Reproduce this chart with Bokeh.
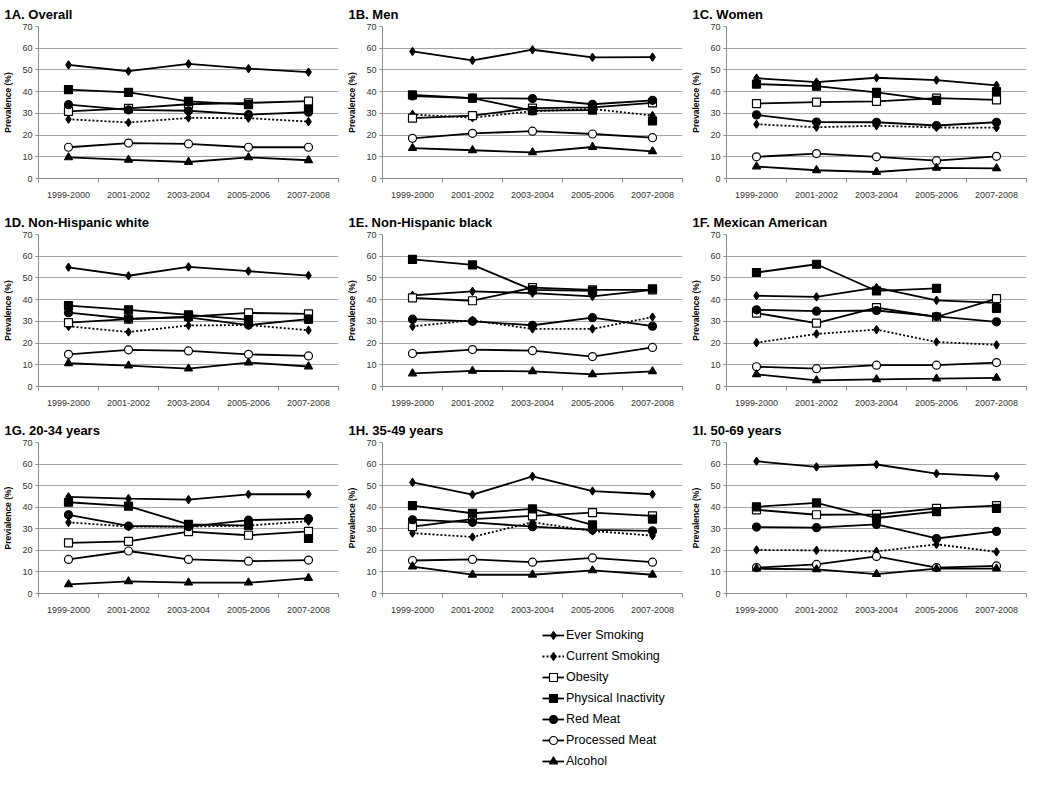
from bokeh.plotting import figure
from bokeh.layouts import column, row
from bokeh.models import Range1d, FixedTicker, Legend, LegendItem, ColumnDataSource
from bokeh.embed import file_html
from bokeh.resources import INLINE

# ---------------- data ----------------
periods = ["1999-2000", "2001-2002", "2003-2004", "2005-2006", "2007-2008"]

panel_titles = ["1A. Overall", "1B. Men", "1C. Women",
                "1D. Non-Hispanic white", "1E. Non-Hispanic black", "1F. Mexican American",
                "1G. 20-34 years", "1H. 35-49 years", "1I. 50-69 years"]
y_titles = ["Prevalence (%)"] * 6 + ["Previalence (%)", "Prevalence (%)", "Prevalence (%)"]

series_names = ["Ever Smoking", "Current Smoking", "Obesity", "Physical Inactivity",
                "Red Meat", "Processed Meat", "Alcohol"]

# each list: panels A..I, values per period
ever_smoking = [
    [52.3, 49.4, 52.8, 50.6, 49.0],
    [58.5, 54.4, 59.3, 55.8, 55.9],
    [46.2, 44.4, 46.4, 45.3, 42.9],
    [54.9, 51.0, 55.1, 53.1, 51.1],
    [42.0, 43.8, 43.0, 41.5, 44.5],
    [41.8, 41.3, 45.5, 39.7, 38.5],
    [44.8, 44.0, 43.5, 46.0, 46.0],
    [51.5, 45.8, 54.3, 47.5, 46.0],
    [61.3, 58.7, 59.8, 55.6, 54.3],
]
current_smoking = [
    [27.3, 25.8, 27.9, 27.8, 26.2],
    [29.5, 28.0, 31.0, 32.0, 29.0],
    [25.0, 23.6, 24.3, 23.5, 23.4],
    [27.7, 25.1, 28.1, 28.3, 25.9],
    [27.7, 30.5, 26.5, 26.5, 32.0],
    [20.2, 24.2, 26.2, 20.5, 19.2],
    [33.0, 31.0, 31.0, 31.5, 33.5],
    [28.0, 26.2, 33.0, 29.0, 26.8],
    [20.2, 20.0, 19.5, 22.8, 19.3],
]
obesity = [
    [30.9, 32.3, 34.2, 34.8, 35.6],
    [27.8, 29.0, 32.4, 32.8, 34.8],
    [34.5, 35.2, 35.5, 37.0, 36.2],
    [29.4, 31.0, 32.2, 33.9, 33.4],
    [40.8, 39.5, 45.5, 44.5, 44.5],
    [33.8, 29.2, 36.3, 32.0, 40.5],
    [23.5, 24.2, 28.7, 27.0, 28.8],
    [31.0, 34.5, 36.0, 37.5, 36.0],
    [38.8, 36.5, 36.7, 39.5, 40.7],
]
physical_inactivity = [
    [40.9, 39.7, 35.5, 34.0, 32.0],
    [38.5, 37.0, 31.3, 31.5, 26.5],
    [43.5, 42.5, 39.7, 36.0, 40.0],
    [37.2, 35.3, 33.0, 30.8, 31.0],
    [58.5, 56.0, 44.5, 44.0, 45.0],
    [52.5, 56.3, 44.0, 45.2, 36.0],
    [42.3, 40.5, 32.0, 31.5, 25.5],
    [40.7, 37.2, 39.2, 31.8, 34.5],
    [40.2, 42.0, 35.0, 38.0, 39.5],
]
red_meat = [
    [34.0, 31.6, 31.2, 29.4, 30.5],
    [38.0, 37.0, 36.8, 34.2, 36.0],
    [29.3, 26.0, 25.9, 24.4, 25.9],
    [34.0, 31.2, 31.8, 28.3, 31.0],
    [31.0, 30.0, 28.2, 31.7, 27.8],
    [35.3, 34.7, 35.0, 32.3, 29.8],
    [36.5, 31.3, 31.0, 34.0, 34.7],
    [34.2, 33.0, 31.0, 29.5, 29.0],
    [30.8, 30.5, 32.0, 25.5, 28.8],
]
processed_meat = [
    [14.4, 16.3, 15.9, 14.4, 14.4],
    [18.5, 20.8, 21.8, 20.5, 18.8],
    [10.0, 11.5, 10.0, 8.2, 10.2],
    [14.8, 16.9, 16.4, 14.8, 14.1],
    [15.2, 17.0, 16.5, 13.8, 18.0],
    [9.1, 8.2, 9.8, 9.8, 11.0],
    [15.8, 19.7, 15.8, 15.0, 15.5],
    [15.3, 15.8, 14.5, 16.5, 14.5],
    [12.0, 13.5, 17.2, 12.0, 12.8],
]
alcohol = [
    [9.7, 8.6, 7.6, 9.7, 8.4],
    [14.0, 13.0, 12.0, 14.5, 12.5],
    [5.5, 3.8, 3.0, 4.9, 4.7],
    [10.7, 9.6, 8.2, 11.0, 9.2],
    [6.0, 7.2, 7.0, 5.6, 7.0],
    [5.6, 2.8, 3.3, 3.6, 4.0],
    [4.2, 5.6, 5.0, 5.0, 7.1],
    [12.5, 8.7, 8.7, 10.7, 8.7],
    [11.5, 11.2, 9.0, 11.5, 11.5],
]
# number of leading points joined by the line (last physical inactivity point stands alone)
line_points = [5, 5, 5, 4, 5, 5, 5]

# ---------------- styles ----------------
all_series = [ever_smoking, current_smoking, obesity, physical_inactivity,
              red_meat, processed_meat, alcohol]
markers = ["diamond", "diamond", "square", "square", "circle", "circle", "triangle"]
fills = ["black", "black", "white", "black", "black", "white", "black"]
sizes = [8, 8, 8, 8, 8, 8, 8]
dashes = ["solid", "2 2", "solid", "solid", "solid", "solid", "solid"]

FONT = "Liberation Sans"
GRID = "#a6a6a6"
AXIS = "#8c8c8c"

xs = [i + 0.5 for i in range(len(periods))]
row_heights = [208, 208, 207]


def make_panel(k):
    p = figure(width=344, height=row_heights[k // 3], x_range=Range1d(0, len(periods)),
               y_range=Range1d(0, 70),
               output_backend="svg", toolbar_location=None, title=panel_titles[k],
               min_border_left=36, min_border_right=6, min_border_top=0, min_border_bottom=30)
    p.title.text_font = FONT
    p.title.text_font_size = "13px"
    p.title.text_font_style = "bold"
    p.title.text_color = "black"
    p.title.offset = -34
    p.title.standoff = 9
    p.outline_line_color = None
    p.xgrid.grid_line_color = None
    p.ygrid.grid_line_color = GRID
    p.ygrid.ticker = FixedTicker(ticks=list(range(10, 71, 10)))

    p.yaxis.ticker = FixedTicker(ticks=list(range(0, 71, 10)))
    p.yaxis.axis_line_color = AXIS
    p.yaxis.major_tick_line_color = AXIS
    p.yaxis.major_tick_out = 3
    p.yaxis.major_tick_in = 0
    p.yaxis.minor_tick_line_color = None
    p.yaxis.major_label_standoff = 3
    p.yaxis.major_label_text_font = FONT
    p.yaxis.major_label_text_font_size = "9px"
    p.yaxis.major_label_text_color = "#333333"
    p.yaxis.axis_label = y_titles[k]
    p.yaxis.axis_label_text_font = FONT
    p.yaxis.axis_label_text_font_size = "8.5px"
    p.yaxis.axis_label_text_font_style = "bold"
    p.yaxis.axis_label_text_color = "black"
    p.yaxis.axis_label_standoff = 6

    p.xaxis.ticker = FixedTicker(ticks=xs, minor_ticks=list(range(len(periods) + 1)))
    p.xaxis.major_label_overrides = {x: lab for x, lab in zip(xs, periods)}
    p.xaxis.axis_line_color = AXIS
    p.xaxis.major_tick_line_color = None
    p.xaxis.major_tick_out = 0
    p.xaxis.major_tick_in = 0
    p.xaxis.minor_tick_line_color = AXIS
    p.xaxis.minor_tick_out = 4
    p.xaxis.minor_tick_in = 0
    p.xaxis.major_label_standoff = 9
    p.xaxis.major_label_text_font = FONT
    p.xaxis.major_label_text_font_size = "9px"
    p.xaxis.major_label_text_color = "#333333"

    for s, data in enumerate(all_series):
        vals = data[k]
        n = line_points[s]
        p.line(xs[:n], vals[:n], line_color="black", line_width=1.8, line_dash=dashes[s])
        p.scatter(xs, vals, marker=markers[s], size=sizes[s], fill_color=fills[s],
                  line_color="black", line_width=1.2)
    return p


panels = [make_panel(k) for k in range(9)]

# ---------------- legend ----------------
lg = figure(width=1032, height=150, x_range=Range1d(0, 1), y_range=Range1d(0, 1),
            output_backend="svg", toolbar_location=None,
            min_border_left=0, min_border_right=0, min_border_top=0, min_border_bottom=0)
lg.axis.visible = False
lg.grid.visible = False
lg.outline_line_color = None
items = []
# renderers whose single point lies outside the visible range: only their legend glyphs show
offscreen = ColumnDataSource(data=dict(x=[-10, -11], y=[-10, -11]))
for s, name in enumerate(series_names):
    r1 = lg.line("x", "y", source=offscreen, line_color="black", line_width=1.8, line_dash=dashes[s])
    r2 = lg.scatter("x", "y", source=offscreen, marker=markers[s], size=sizes[s], fill_color=fills[s],
                    line_color="black", line_width=1.2)
    items.append(LegendItem(label=name, renderers=[r1, r2]))
legend = Legend(items=items, location=(542, 2), glyph_width=22, glyph_height=20,
                label_height=20, spacing=1, padding=0, margin=0, label_standoff=2,
                border_line_color=None, background_fill_alpha=0,
                label_text_font=FONT, label_text_font_size="12.5px", label_text_color="black")
lg.add_layout(legend)

layout = column(row(*panels[0:3]), row(*panels[3:6]), row(*panels[6:9]), lg)

open("out.html", "w").write(file_html(layout, INLINE))
